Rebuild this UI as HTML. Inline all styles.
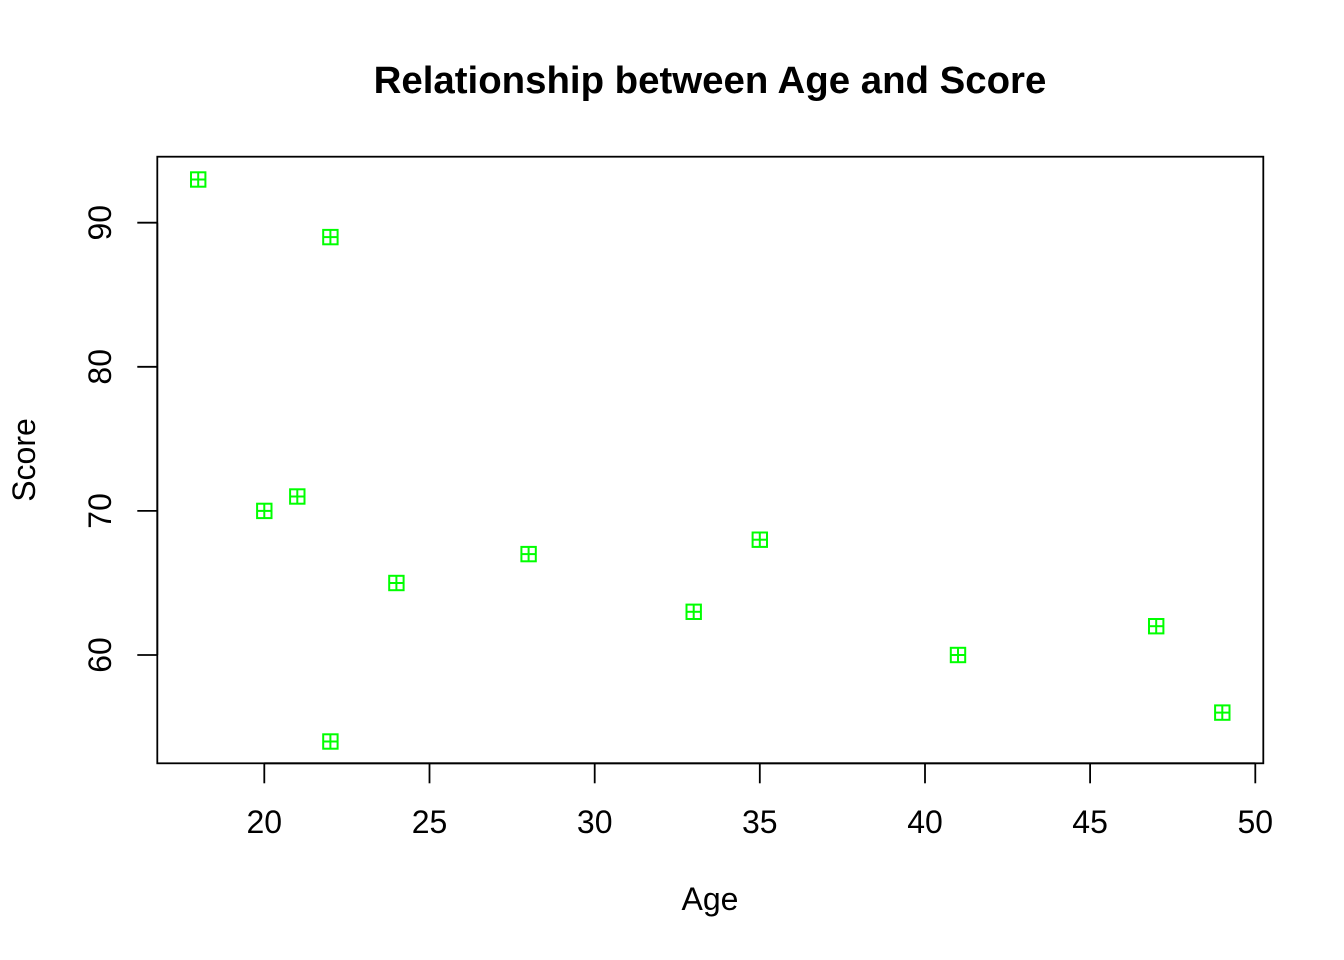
<!DOCTYPE html>
<html>
<head>
<meta charset="utf-8">
<style>
  html, body { margin:0; padding:0; background:#fff; }
  svg { display:block; }
  text { font-family: "Liberation Sans", Arial, Helvetica, sans-serif; fill:#000; }
</style>
</head>
<body>
<svg width="1344" height="960" viewBox="0 0 1344 960" xmlns="http://www.w3.org/2000/svg">
  <rect x="0" y="0" width="1344" height="960" fill="#fff"/>
  <!-- Title -->
  <text x="710" y="93" font-size="38.4" font-weight="bold" text-anchor="middle">Relationship between Age and Score</text>

  <!-- Plot box -->
  <rect x="157.3" y="156.7" width="1106" height="606.6" fill="none" stroke="#000" stroke-width="1.8"/>

  <!-- X axis -->
  <g stroke="#000" stroke-width="1.8">
    <line x1="264.3" y1="763.3" x2="1255.3" y2="763.3"/>
    <line x1="264.3" y1="763.3" x2="264.3" y2="783.3"/>
    <line x1="429.5" y1="763.3" x2="429.5" y2="783.3"/>
    <line x1="594.7" y1="763.3" x2="594.7" y2="783.3"/>
    <line x1="759.8" y1="763.3" x2="759.8" y2="783.3"/>
    <line x1="925.0" y1="763.3" x2="925.0" y2="783.3"/>
    <line x1="1090.1" y1="763.3" x2="1090.1" y2="783.3"/>
    <line x1="1255.3" y1="763.3" x2="1255.3" y2="783.3"/>
  </g>
  <g font-size="32" text-anchor="middle">
    <text x="264.3" y="833">20</text>
    <text x="429.5" y="833">25</text>
    <text x="594.7" y="833">30</text>
    <text x="759.8" y="833">35</text>
    <text x="925.0" y="833">40</text>
    <text x="1090.1" y="833">45</text>
    <text x="1255.3" y="833">50</text>
  </g>

  <!-- Y axis -->
  <g stroke="#000" stroke-width="1.8">
    <line x1="157.3" y1="222.7" x2="157.3" y2="655"/>
    <line x1="137.3" y1="222.7" x2="157.3" y2="222.7"/>
    <line x1="137.3" y1="366.8" x2="157.3" y2="366.8"/>
    <line x1="137.3" y1="510.9" x2="157.3" y2="510.9"/>
    <line x1="137.3" y1="655" x2="157.3" y2="655"/>
  </g>
  <g font-size="32" text-anchor="middle">
    <text transform="translate(111,222.7) rotate(-90)">90</text>
    <text transform="translate(111,366.8) rotate(-90)">80</text>
    <text transform="translate(111,510.9) rotate(-90)">70</text>
    <text transform="translate(111,655) rotate(-90)">60</text>
  </g>

  <!-- Axis labels -->
  <text x="710" y="910" font-size="32" text-anchor="middle">Age</text>
  <text transform="translate(35,460) rotate(-90)" font-size="32" text-anchor="middle">Score</text>

  <!-- Points (pch 12: square with plus) -->
  <defs>
    <g id="m" fill="none" stroke="#00ff00" stroke-width="2">
      <rect x="-7.2" y="-7.2" width="14.4" height="14.4"/>
      <line x1="-7.2" y1="0" x2="7.2" y2="0"/>
      <line x1="0" y1="-7.2" x2="0" y2="7.2"/>
    </g>
  </defs>
  <use href="#m" x="198.2" y="179.5"/>
  <use href="#m" x="330.4" y="237.1"/>
  <use href="#m" x="264.3" y="510.9"/>
  <use href="#m" x="297.3" y="496.5"/>
  <use href="#m" x="396.4" y="583.0"/>
  <use href="#m" x="528.6" y="554.1"/>
  <use href="#m" x="693.7" y="611.8"/>
  <use href="#m" x="759.8" y="539.7"/>
  <use href="#m" x="958.0" y="655.0"/>
  <use href="#m" x="1156.2" y="626.2"/>
  <use href="#m" x="1222.3" y="712.6"/>
  <use href="#m" x="330.4" y="741.5"/>
</svg>
</body>
</html>
